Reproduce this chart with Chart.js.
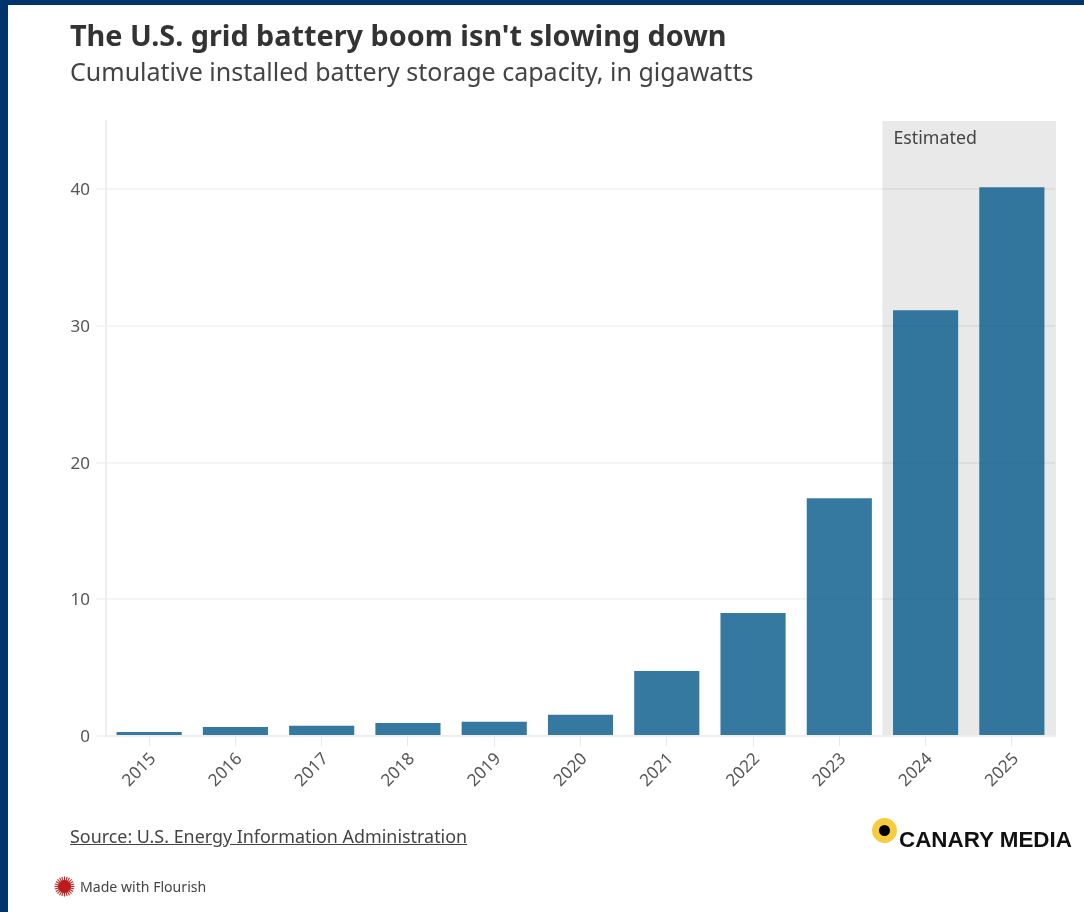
<!DOCTYPE html>
<html>
<head>
<meta charset="utf-8">
<title>The U.S. grid battery boom isn't slowing down</title>
<script src="https://cdn.jsdelivr.net/npm/chart.js@4"></script>
<style>
  html, body { margin: 0; padding: 0; background: #fff; }
  #page {
    position: relative; width: 1084px; height: 912px; overflow: hidden; background: #fff;
    font-family: "Noto Sans", sans-serif; color: #444; font-variant-ligatures: none;
  }
  #page .edge { position: absolute; background: #00356b; }
  #page .txt { position: absolute; white-space: nowrap; }
  #myChart { position: absolute; left: 0; top: 0; }
  #title { left: 70px; top: 16px; font-size: 28.8px; line-height: 38px; font-weight: 700; color: #333; }
  #subtitle { left: 70px; top: 54px; font-size: 25px; line-height: 34px; color: #444; }
  #source { left: 70px; top: 824px; font-size: 17.9px; line-height: 24px; text-decoration: underline; color: #444; }
  #flourish { left: 80px; top: 877px; font-size: 14.1px; line-height: 20px; color: #444; }
  #canary { left: 899px; top: 826px; font-family: "Liberation Sans", sans-serif; font-size: 22.4px; line-height: 28px; font-weight: 700; color: #111; }
  #dot { position: absolute; left: 872px; top: 818px; width: 11px; height: 11px; border: 7px solid #f7cd3f; background: #000; border-radius: 50%; }
  #burst { position: absolute; left: 54px; top: 876px; }
</style>
</head>
<body>
<div id="page">
  <div class="edge" style="left:0;top:0;width:1084px;height:5px"></div>
  <div class="edge" style="left:0;top:0;width:8px;height:912px"></div>
  <canvas id="myChart" width="1084" height="912"></canvas>
  <div class="txt" id="title">The U.S. grid battery boom isn't slowing down</div>
  <div class="txt" id="subtitle">Cumulative installed battery storage capacity, in gigawatts</div>
  <div class="txt" id="source">Source: U.S. Energy Information Administration</div>
  <svg id="burst" width="21" height="21" viewBox="-10.5 -10.5 21 21"></svg>
  <div class="txt" id="flourish">Made with Flourish</div>
  <div id="dot"></div>
  <div class="txt" id="canary">CANARY MEDIA</div>
</div>
<script>
var years = ["2015", "2016", "2017", "2018", "2019", "2020", "2021", "2022", "2023", "2024", "2025"];
var capacity = [0.3, 0.65, 0.75, 0.95, 1.05, 1.55, 4.75, 9.0, 17.4, 31.15, 40.15];
var yTicks = [0, 10, 20, 30, 40];
var estimatedFrom = "2024";
var estimatedLabel = "Estimated";

// grey band behind the estimated years, placed from the category scale
var estimatedBand = {
  id: "estimatedBand",
  beforeDraw: (chart) => {
    var x = chart.scales.x;
    var area = chart.chartArea;
    var step = x.getPixelForValue(1) - x.getPixelForValue(0);
    var left = x.getPixelForValue(years.indexOf(estimatedFrom)) - step / 2;
    var ctx = chart.ctx;
    ctx.save();
    ctx.fillStyle = "#e9e9e9";
    ctx.fillRect(left, area.top, area.right + 1 - left, area.bottom - area.top);
    ctx.fillStyle = "#444";
    ctx.font = "17.8px 'Noto Sans', sans-serif";
    ctx.textBaseline = "middle";
    ctx.fillText(estimatedLabel, left + 11, area.top + 18);
    ctx.restore();
  },
};

var ctx = document.getElementById("myChart").getContext("2d");
new Chart(ctx, {
  type: "bar",
  plugins: [estimatedBand],
  data: {
    labels: years,
    datasets: [
      {
        data: capacity,
        backgroundColor: "rgba(18,96,143,0.85)",
        categoryPercentage: 0.755,
        barPercentage: 1,
      },
    ],
  },
  options: {
    responsive: false,
    animation: false,
    layout: { padding: { top: 121, right: 29, left: 0, bottom: 0 } },
    plugins: { legend: { display: false }, title: { display: false }, tooltip: { enabled: false } },
    scales: {
      x: {
        afterFit: (scale) => { scale.height = 176; },
        grid: { drawOnChartArea: false, color: "#e8e8e8", lineWidth: 1, tickLength: 10, offset: false },
        border: { color: "#eeeeee", width: 2 },
        ticks: {
          color: "#555",
          font: { family: "Noto Sans", size: 17 },
          minRotation: 45,
          maxRotation: 45,
          padding: 3,
          labelOffset: 4,
        },
      },
      y: {
        min: 0,
        max: 45,
        afterFit: (scale) => { scale.width = 106; },
        afterBuildTicks: (scale) => { scale.ticks = yTicks.map((v) => ({ value: v })); },
        grid: { color: "rgba(0,0,0,0.045)", lineWidth: 2, tickLength: 10 },
        border: { color: "#eeeeee", width: 2 },
        ticks: { color: "#555", font: { family: "Noto Sans", size: 17 }, padding: 6, labelOffset: 1 },
      },
    },
  },
});

// small flourish mark
var burst = document.getElementById("burst");
var rays = "";
for (let i = 0; i < 24; i++) {
  let a = (i * Math.PI) / 12;
  rays += '<line x1="0" y1="0" x2="' + 10 * Math.cos(a) + '" y2="' + 10 * Math.sin(a) + '" stroke="#c0201f" stroke-width="1.1"/>';
}
burst.innerHTML = rays + '<circle r="6.5" fill="#b81c1c"/>';
</script>
</body>
</html>
